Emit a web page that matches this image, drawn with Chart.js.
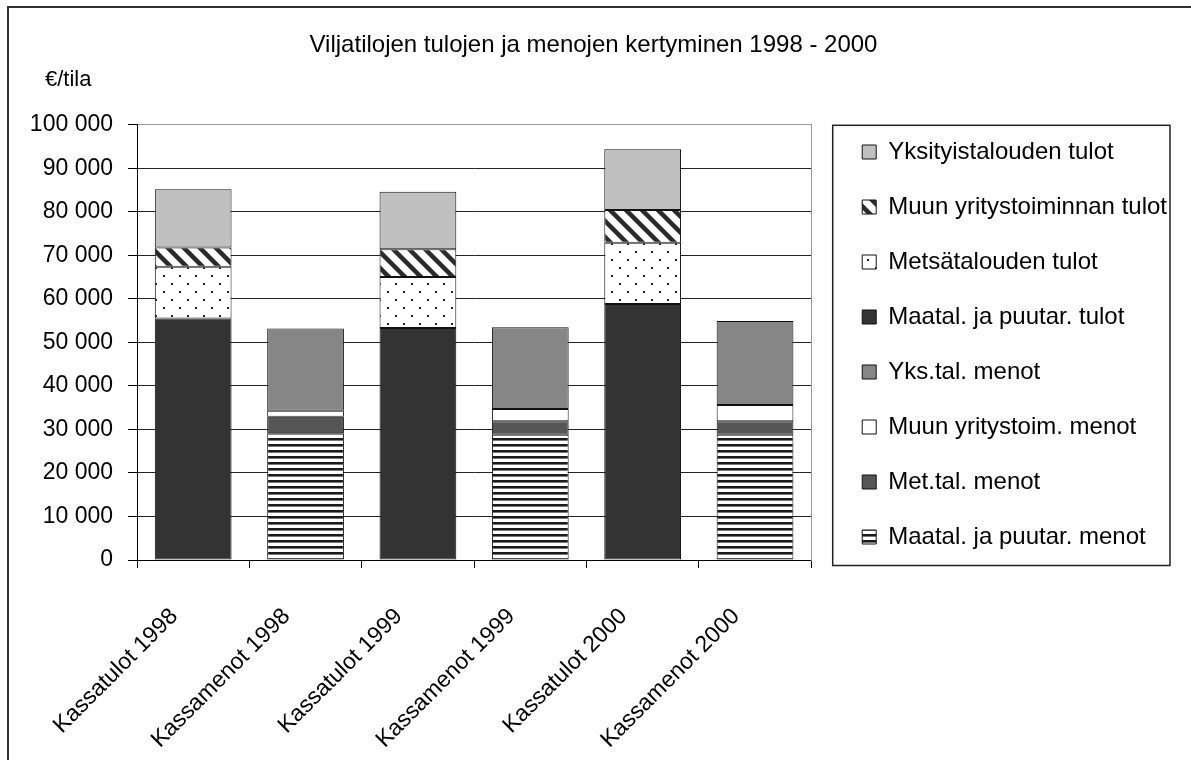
<!DOCTYPE html>
<html>
<head>
<meta charset="utf-8">
<script src="https://cdn.jsdelivr.net/npm/chart.js@4.4.1/dist/chart.umd.min.js"></script>
<style>
  html, body { margin: 0; padding: 0; background: #fff; }
  canvas { display: block; }
</style>
</head>
<body>
<canvas id="kassaChart" width="1191" height="760"></canvas>
<script>
// Kassatulot ja -menot, €/tila (luettu kuvasta)
const categories = ['Kassatulot 1998', 'Kassamenot 1998', 'Kassatulot 1999', 'Kassamenot 1999', 'Kassatulot 2000', 'Kassamenot 2000'];

const maatalTulot = [55500, null, 53300, null, 58800, null];
const metsaTulot  = [11900, null, 11700, null, 14100, null];
const muunTulot   = [4400, null, 6400, null, 7500, null];
const yksTulot    = [13400, null, 13200, null, 14000, null];

const maatalMenot = [null, 29100, null, 28800, null, 28800];
const metMenot    = [null, 3800, null, 3100, null, 3100];
const muunMenot   = [null, 1400, null, 2800, null, 3700];
const yksMenot    = [null, 18900, null, 18800, null, 19300];

const yTicks = [0, 10000, 20000, 30000, 40000, 50000, 60000, 70000, 80000, 90000, 100000];

const chartTitle = 'Viljatilojen tulojen ja menojen kertyminen 1998 - 2000';
const unitLabel = '€/tila';

const FONT = "'Liberation Sans', Arial, sans-serif";

// kuviot (patterns)
function makePattern(w, h, draw) {
    const c = document.createElement('canvas');
    c.width = w; c.height = h;
    const g = c.getContext('2d');
    g.fillStyle = '#fff';
    g.fillRect(0, 0, w, h);
    draw(g);
    return g.createPattern(c, 'repeat');
}

const diagPattern = makePattern(16, 16, g => {
    g.strokeStyle = '#2b2b2b';
    g.lineWidth = 4.5;
    [-16, 0, 16].forEach(k => {
        g.beginPath();
        g.moveTo(k - 2, -2);
        g.lineTo(k + 18, 18);
        g.stroke();
    });
});

const dotPattern = makePattern(16, 16, g => {
    g.fillStyle = '#222';
    g.fillRect(3, 3, 2, 2);
    g.fillRect(11, 11, 2, 2);
});

const stripePattern = makePattern(8, 6, g => {
    g.fillStyle = '#1a1a1a';
    g.fillRect(0, 0, 8, 2);
    g.fillStyle = '#777';
    g.fillRect(0, 2, 8, 1);
});

function fmt(v) {
    return String(v).replace(/\B(?=(\d{3})+(?!\d))/g, ' ');
}

// order in legend (Excel lists the stacks from top down)
function legendRank(i) {
    return i < 4 ? 3 - i : 11 - i;
}

const frame = {
    id: 'frame',
    afterDraw(chart) {
        const ctx = chart.ctx;
        const lg = chart.legend;
        const area = chart.chartArea;
        ctx.save();
        // outer frame
        ctx.strokeStyle = '#333';
        ctx.lineWidth = 2;
        ctx.strokeRect(8, 7, 1400, 1000);
        // legend box
        ctx.lineWidth = 1.5;
        ctx.strokeStyle = '#222';
        ctx.strokeRect(lg.left + 1.5, area.top + 0.5, 1170 - lg.left - 1.5, area.bottom - area.top + 5);
        // unit text
        ctx.fillStyle = '#000';
        ctx.font = '22px ' + FONT;
        ctx.textAlign = 'left';
        ctx.textBaseline = 'middle';
        ctx.fillText(unitLabel, 45, 80);
        ctx.restore();
    }
};

const ds = (label, data, bg) => ({
    label: label,
    data: data,
    backgroundColor: bg,
    borderColor: '#111',
    borderWidth: 1,
    borderSkipped: false,
    barPercentage: 0.683,
    categoryPercentage: 1
});

new Chart(document.getElementById('kassaChart'), {
    type: 'bar',
    data: {
        labels: categories,
        datasets: [
            ds('Maatal. ja puutar. tulot', maatalTulot, '#333333'),
            ds('Metsätalouden tulot', metsaTulot, dotPattern),
            ds('Muun yritystoiminnan tulot', muunTulot, diagPattern),
            ds('Yksityistalouden tulot', yksTulot, '#c0c0c0'),
            ds('Maatal. ja puutar. menot', maatalMenot, stripePattern),
            ds('Met.tal. menot', metMenot, '#555555'),
            ds('Muun yritystoim. menot', muunMenot, '#ffffff'),
            ds('Yks.tal. menot', yksMenot, '#868686')
        ]
    },
    options: {
        responsive: false,
        animation: false,
        layout: { padding: { left: 10, right: 14, top: 0, bottom: 0 } },
        font: { family: FONT },
        plugins: {
            title: {
                display: true,
                text: chartTitle,
                color: '#000',
                font: { family: FONT, size: 24, weight: 'normal' },
                padding: { top: 31, bottom: 65 }
            },
            legend: {
                position: 'right',
                maxWidth: 420,
                align: 'start',
                // empty legend title only pushes the items down to the plot top
                title: { display: true, text: '', font: { size: 10 }, padding: { top: 0, bottom: 97 } },
                labels: {
                    color: '#000',
                    font: { family: FONT, size: 24 },
                    boxWidth: 14,
                    boxHeight: 14,
                    padding: 31,
                    sort: (a, b) => legendRank(a.datasetIndex) - legendRank(b.datasetIndex)
                }
            },
            tooltip: { enabled: false }
        },
        scales: {
            x: {
                stacked: true,
                offset: true,
                grid: {
                    display: true,
                    offset: true,
                    drawOnChartArea: false,
                    drawTicks: true,
                    tickLength: 8,
                    color: '#000'
                },
                border: { display: true, color: '#000', width: 1 },
                ticks: {
                    color: '#000',
                    font: { family: FONT, size: 23 },
                    minRotation: 45,
                    maxRotation: 45,
                    autoSkip: false,
                    padding: 35,
                    labelOffset: -19
                },
                afterFit: s => { s.height = 200; }
            },
            y: {
                stacked: true,
                min: 0,
                max: 100000,
                afterBuildTicks: s => { s.ticks = yTicks.map(v => ({ value: v })); },
                grid: {
                    color: c => (c.tick && c.tick.value === 100000 ? '#999' : '#222'),
                    tickColor: '#000',
                    tickLength: 9,
                    lineWidth: 1
                },
                border: { display: true, color: '#000', width: 1 },
                ticks: {
                    color: '#000',
                    font: { family: FONT, size: 23 },
                    padding: 15,
                    callback: v => fmt(v)
                },
                afterFit: s => { s.width = 127; }
            },
            y2: {
                position: 'right',
                display: true,
                grid: { display: false, drawTicks: false },
                border: { display: true, color: '#999', width: 1 },
                ticks: { display: false },
                afterFit: s => { s.width = 20; }
            }
        }
    },
    plugins: [frame]
});
</script>
</body>
</html>
